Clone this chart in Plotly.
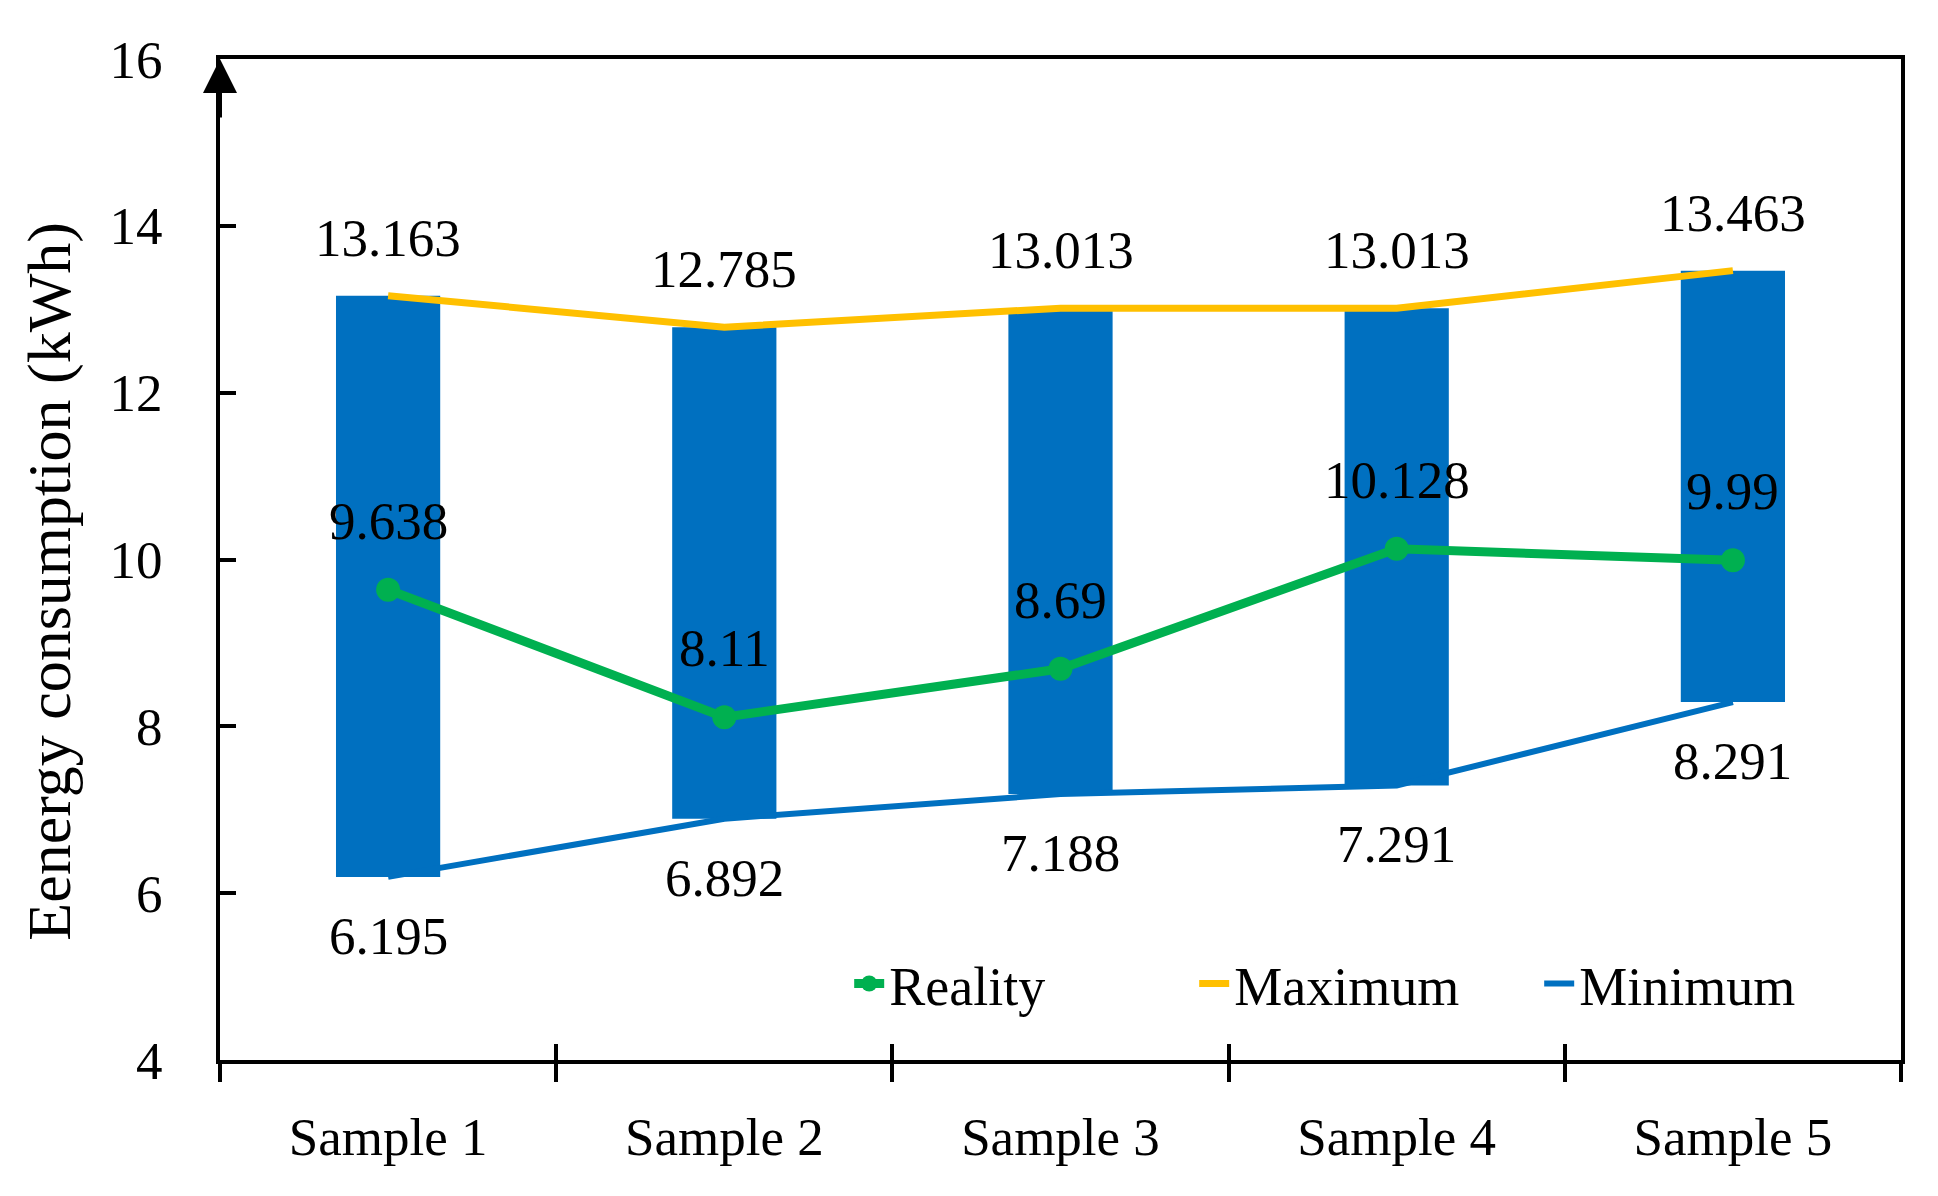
import plotly.graph_objects as go

categories = ["Sample 1", "Sample 2", "Sample 3", "Sample 4", "Sample 5"]
reality = [9.638, 8.11, 8.69, 10.128, 9.99]
maximum = [13.163, 12.785, 13.013, 13.013, 13.463]
minimum = [6.195, 6.892, 7.188, 7.291, 8.291]
y_ticks = [4, 6, 8, 10, 12, 14, 16]

FONT = "Liberation Serif"
BLUE = "#0070C0"
ORANGE = "#FFC000"
GREEN = "#00B050"
FS = 53

fig = go.Figure()

# floating bars from minimum to maximum
fig.add_trace(go.Bar(
    x=categories, y=[mx - mn for mx, mn in zip(maximum, minimum)], base=minimum,
    marker=dict(color=BLUE, line=dict(width=0)), width=0.31, showlegend=False,
    hoverinfo="skip"))

fig.add_trace(go.Scatter(
    x=categories, y=maximum, mode="lines", name="Maximum", legendrank=2,
    line=dict(color=ORANGE, width=7)))

fig.add_trace(go.Scatter(
    x=categories, y=minimum, mode="lines", name="Minimum", xaxis="x2", legendrank=3,
    line=dict(color=BLUE, width=6)))

fig.add_trace(go.Scatter(
    x=categories, y=reality, mode="lines+markers", name="Reality", legendrank=1,
    line=dict(color=GREEN, width=9), marker=dict(color=GREEN, size=24)))

annotations = []
for c, v in zip(categories, maximum):
    annotations.append(dict(x=c, y=v, text=f"{v:g}", showarrow=False, yshift=58,
                            font=dict(family=FONT, size=FS, color="black")))
for c, v in zip(categories, reality):
    annotations.append(dict(x=c, y=v, text=f"{v:g}", showarrow=False, yshift=69,
                            font=dict(family=FONT, size=FS, color="black")))
for c, v in zip(categories, minimum):
    annotations.append(dict(x=c, y=v, text=f"{v:g}", showarrow=False, yshift=-59,
                            font=dict(family=FONT, size=FS, color="black")))

# y-axis title (placed slightly below the plot centre, as in the reference)
annotations.append(dict(xref="paper", yref="paper", x=-0.1016, y=0.478,
                        xanchor="center", yanchor="middle", textangle=-90,
                        text="Eenergy consumption (kWh)", showarrow=False,
                        font=dict(family=FONT, size=62, color="black")))

# arrow at the top of the y axis
annotations.append(dict(xref="paper", x=0, yref="y", y=y_ticks[-1], ax=0, ay=60,
                        showarrow=True, arrowhead=2, arrowwidth=4, arrowsize=1.7,
                        arrowcolor="black", text=""))

fig.update_layout(
    width=1938, height=1196,
    margin=dict(l=212, r=45, t=51, b=144),
    paper_bgcolor="white", plot_bgcolor="white",
    font=dict(family=FONT, size=FS, color="black"),
    barmode="overlay",
    annotations=annotations,
    legend=dict(orientation="h", x=0.99, xanchor="right", y=0.076, yanchor="middle",
                traceorder="normal", font=dict(family=FONT, size=54),
                bgcolor="rgba(0,0,0,0)", itemwidth=30,
                entrywidth=300, entrywidthmode="pixels"),
    xaxis=dict(
        type="category", range=[-0.5, 4.5], showgrid=False, zeroline=False,
        showline=True, linecolor="black", linewidth=4, mirror=True,
        ticks="outside", tickson="boundaries", ticklen=18, tickwidth=4, tickcolor="black",
        ticklabelstandoff=27, tickfont=dict(family=FONT, size=FS)),
    xaxis2=dict(
        type="category", range=[-0.5, 4.5], overlaying="x", matches="x",
        showgrid=False, zeroline=False, showline=False,
        ticks="inside", tickson="boundaries", ticklen=16, tickwidth=4, tickcolor="black",
        showticklabels=False),
    yaxis=dict(
        range=[4, 16], tickvals=y_ticks, showgrid=False, zeroline=False,
        showline=True, linecolor="black", linewidth=4, mirror=True,
        ticks="inside", ticklen=16, tickwidth=4, tickcolor="black",
        ticklabelstandoff=43, tickfont=dict(family=FONT, size=FS)),
)

fig.write_html("out.html")
